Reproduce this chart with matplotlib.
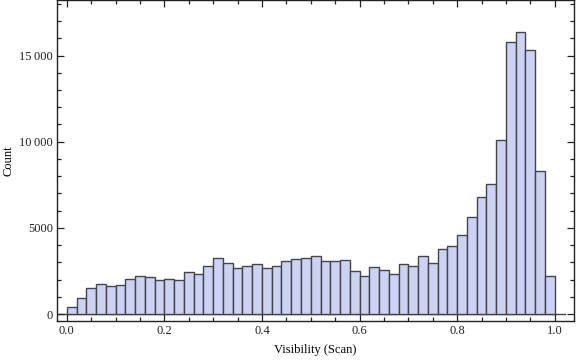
import numpy as np
import matplotlib
matplotlib.use("Agg")
import matplotlib.pyplot as plt
from matplotlib.ticker import MultipleLocator, FuncFormatter

# Histogram bins (width 0.02) and counts
bin_edges = np.round(np.arange(0, 1.0001, 0.02), 2)
counts = [390, 910, 1500, 1770, 1600, 1710, 2060, 2180, 2120, 1960,
          2020, 1960, 2430, 2350, 2760, 3230, 2940, 2670, 2760, 2880,
          2700, 2760, 3070, 3190, 3250, 3370, 3070, 3070, 3130, 2490,
          2200, 2720, 2570, 2320, 2900, 2780, 3370, 2960, 3770, 3950,
          4590, 5640, 6810, 7560, 10100, 15800, 16350, 15300, 8300, 2200]

x_label = "Visibility (Scan)"
y_label = "Count"

plt.rcParams['font.family'] = ['Liberation Serif', 'DejaVu Serif']

fig = plt.figure(figsize=(5.76, 3.61), dpi=100)
ax = fig.add_axes([0.099, 0.111, 0.898, 0.888])

ax.bar(bin_edges[:-1], counts, width=0.02, align='edge',
       color='#CBD2F4', edgecolor='#454545', linewidth=1.0, zorder=2)

# zero axis line like Mathematica
ax.plot([-0.02, 1.02], [0, 0], color='#454545', lw=1.0, zorder=1)

ax.set_xlim(-0.02, 1.04)
ax.set_ylim(-400, 18200)

ax.xaxis.set_major_locator(MultipleLocator(0.2))
ax.xaxis.set_minor_locator(MultipleLocator(0.05))
ax.yaxis.set_major_locator(MultipleLocator(5000))
ax.yaxis.set_minor_locator(MultipleLocator(1000))

def fmt_y(v, pos):
    v = int(round(v))
    if abs(v) >= 10000:
        s = f"{v:,}".replace(",", "\u2009")
    else:
        s = str(v)
    return s

ax.yaxis.set_major_formatter(FuncFormatter(fmt_y))
ax.xaxis.set_major_formatter(FuncFormatter(lambda v, p: f"{v:.1f}"))

ax.tick_params(which='both', direction='in', top=True, right=True,
               colors='#222222', labelsize=9, width=0.9)
ax.tick_params(which='major', length=5, pad=3)
ax.tick_params(which='minor', length=2.8)

for sp in ax.spines.values():
    sp.set_linewidth(1.0)
    sp.set_color('#222222')

ax.set_xlabel(x_label, fontsize=9, labelpad=5)
fig.text(9 / 576, 0.555, y_label, rotation=90, ha='center', va='center',
         fontsize=9)

fig.savefig("out.png", dpi=100)
